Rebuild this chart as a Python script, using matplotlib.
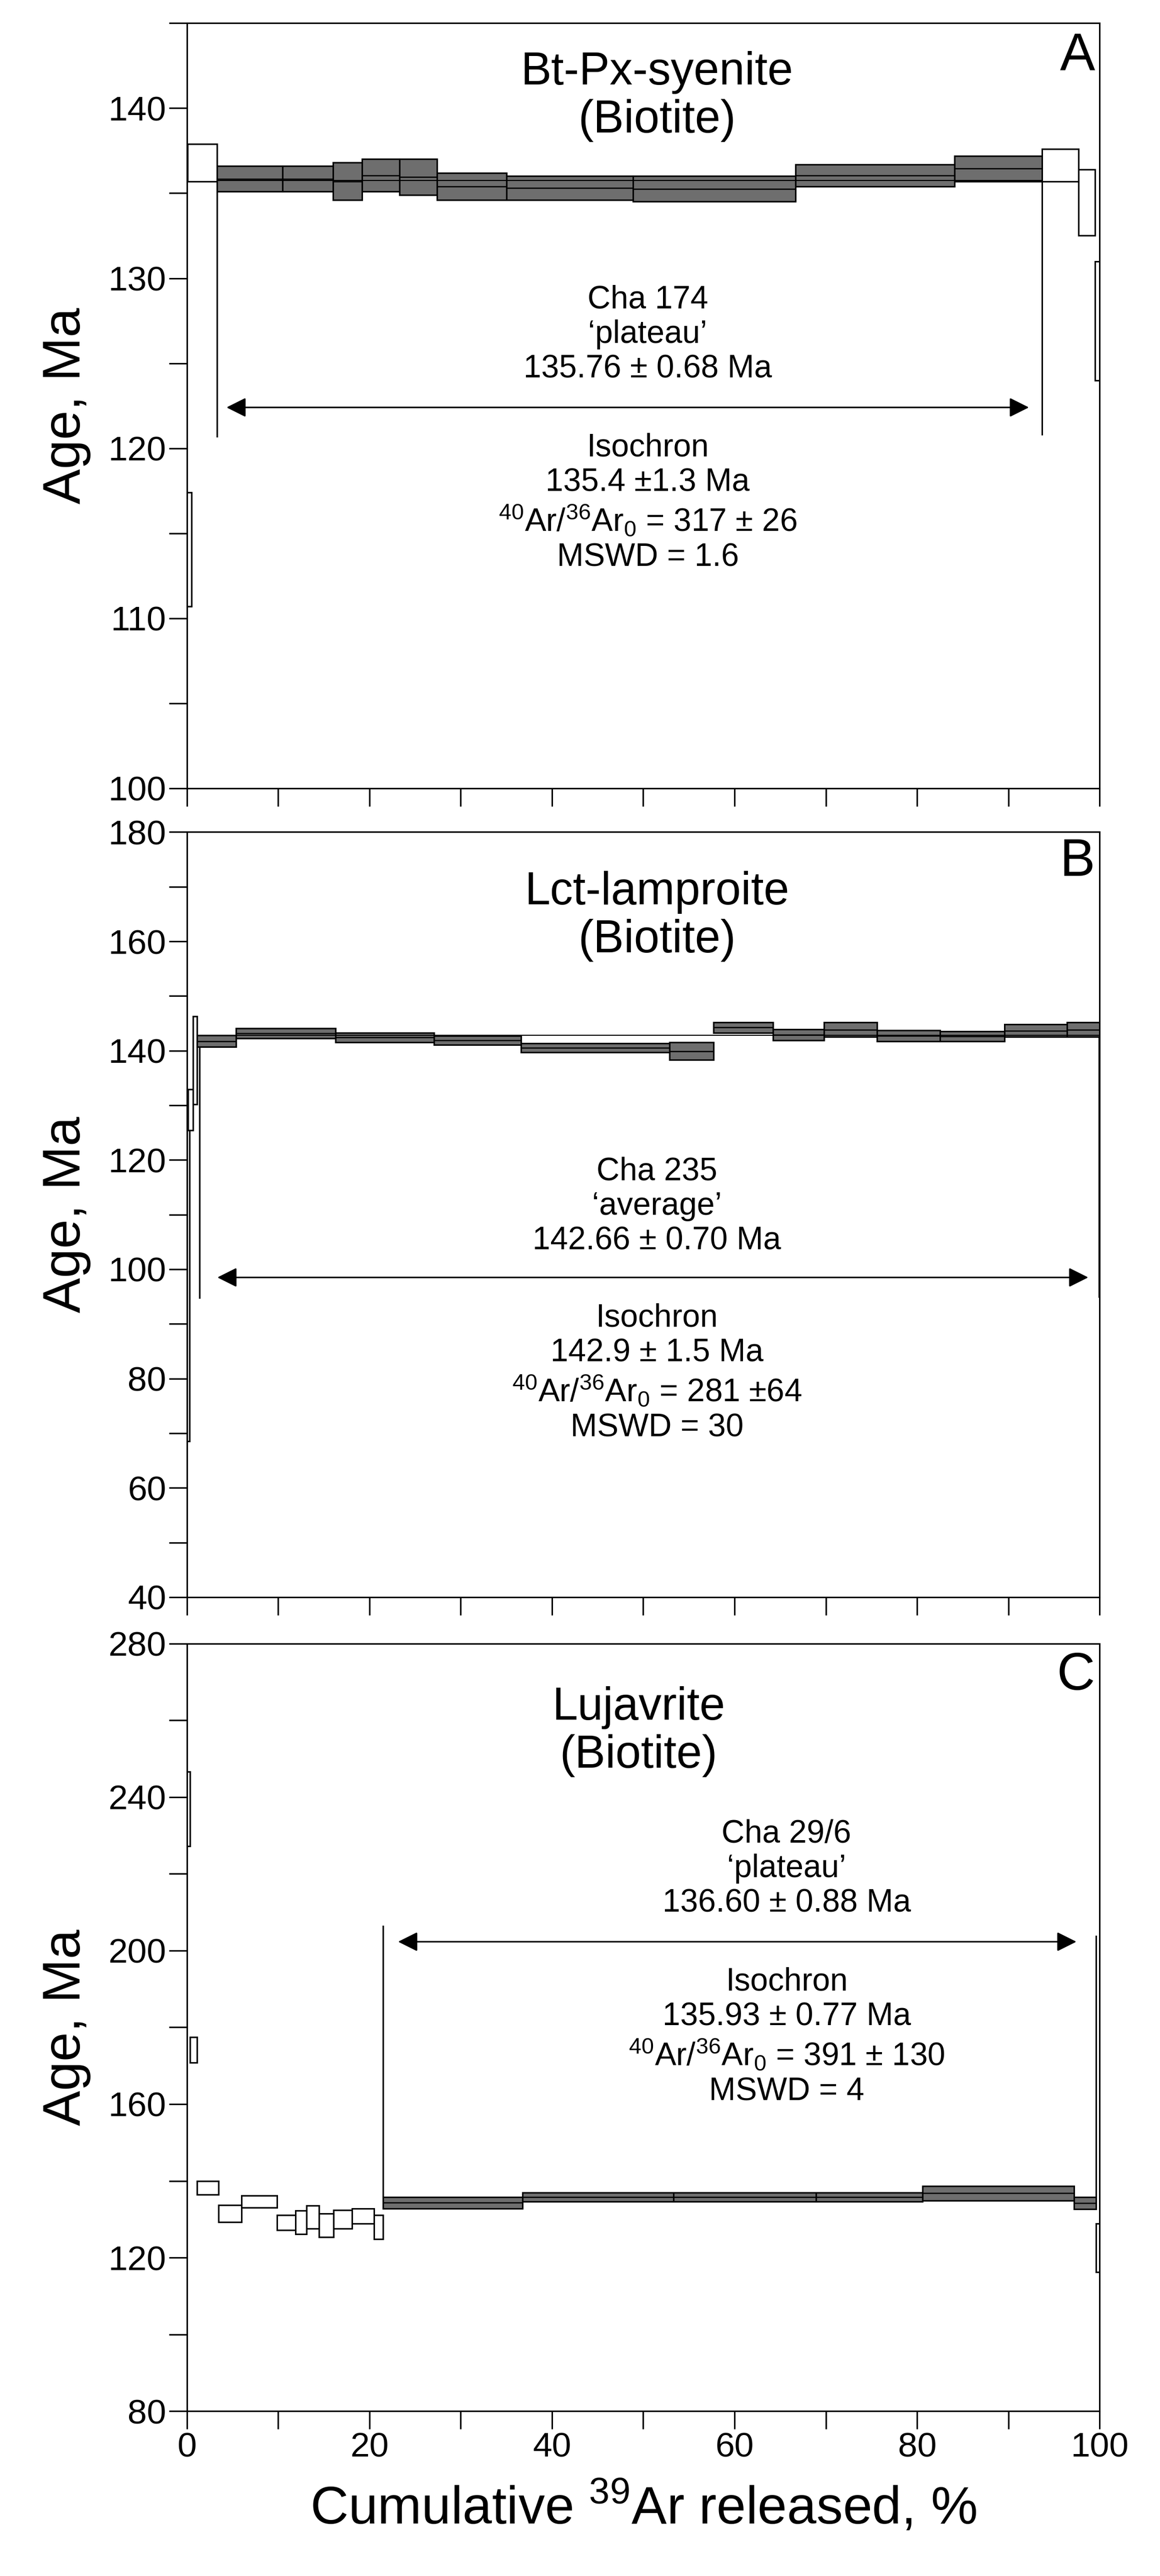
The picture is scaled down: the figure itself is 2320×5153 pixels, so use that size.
import matplotlib
matplotlib.use("Agg")
import matplotlib.pyplot as plt
from matplotlib.patches import Rectangle
from matplotlib.ticker import MultipleLocator

plt.rcParams['font.family'] = ['Liberation Sans', 'DejaVu Sans']
plt.rcParams['mathtext.fontset'] = 'custom'
plt.rcParams['mathtext.rm'] = 'Liberation Sans'
plt.rcParams['mathtext.it'] = 'Liberation Sans'

GREY = '#6e6e6e'

# --- Panel A: Bt-Px-syenite, Cha 174 ---
a_edges = [0.1, 3.3, 10.5, 16.0, 19.2, 23.3, 27.4, 35.0, 48.9, 66.7, 84.1, 93.7, 97.7, 99.5, 100]
a_lo = [135.7, 135.1, 135.1, 134.6, 135.1, 134.9, 134.6, 134.6, 134.5, 135.4, 135.7, 135.7, 132.5, 124.0]
a_hi = [137.9, 136.6, 136.6, 136.8, 137.0, 137.0, 136.2, 136.0, 136.0, 136.7, 137.2, 137.6, 136.4, 131.0]
a_plat = [False] + [True] * 10 + [False] * 3
a_first = (0.0, 0.5, 110.7, 117.4)  # x0, x1, lo, hi of first step

# --- Panel B: Lct-lamproite, Cha 235 ---
b_edges = [1.1, 5.4, 16.3, 27.1, 36.6, 52.9, 57.7, 64.2, 69.8, 75.6, 82.5, 89.6, 96.4, 100]
b_lo = [140.7, 142.3, 141.5, 141.1, 139.7, 138.3, 143.3, 141.9, 142.5, 141.7, 141.7, 142.5, 142.5]
b_hi = [142.8, 144.1, 143.3, 142.7, 141.3, 141.5, 145.2, 143.9, 145.2, 143.7, 143.5, 144.8, 145.2]
b_first_x0 = [0.0, 0.15, 0.7]
b_first_x1 = [0.3, 0.7, 1.1]
b_first_lo = [68.5, 125.4, 130.2]
b_first_hi = [132.4, 132.9, 146.3]

# --- Panel C: Lujavrite, Cha 29/6 ---
c_edges = [0.0, 0.35, 1.1, 3.5, 6.0, 9.9, 11.9, 13.1, 14.5, 16.1, 18.1, 20.5, 21.5,
           36.8, 53.3, 68.9, 80.6, 97.2, 99.6, 100]
c_lo = [227.2, 170.8, 136.4, 129.3, 133.1, 127.2, 126.1, 127.6, 125.4, 127.6, 128.9, 124.8,
        132.8, 134.6, 134.6, 134.6, 134.9, 132.6, 116.2]
c_hi = [246.6, 177.4, 140.0, 133.7, 136.1, 131.1, 132.3, 133.6, 131.5, 132.4, 132.8, 131.1,
        135.8, 137.0, 137.0, 137.0, 138.7, 135.8, 128.9]
c_plat = [False] * 12 + [True] * 6 + [False]


def draw_steps(ax, edges, lo, hi, plat):
    for i in range(len(lo)):
        x0, x1 = edges[i], edges[i + 1]
        fc = GREY if plat[i] else 'white'
        ax.add_patch(Rectangle((x0, lo[i]), x1 - x0, hi[i] - lo[i], fc=fc, ec='black', lw=2.2, zorder=3))
        if plat[i]:
            mid = (lo[i] + hi[i]) / 2
            ax.plot([x0, x1], [mid, mid], color='black', lw=1.8, zorder=4)


def plateau_marks(ax, x0, x1, y0_left, y0_right, ytop_left, ytop_right, yarrow, ax0, ax1):
    ax.plot([x0, x0], [y0_left, ytop_left], color='black', lw=2.2, zorder=4)
    ax.plot([x1, x1], [y0_right, ytop_right], color='black', lw=2.2, zorder=4)
    ax.annotate('', xy=(ax0, yarrow), xytext=(ax1, yarrow),
                arrowprops=dict(arrowstyle='<|-|>', color='black', lw=2.2, mutation_scale=60))


def style(ax, ylim, major, minor):
    ax.set_xlim(0, 100)
    ax.set_ylim(*ylim)
    ax.xaxis.set_major_locator(MultipleLocator(20))
    ax.xaxis.set_minor_locator(MultipleLocator(10))
    ax.yaxis.set_major_locator(MultipleLocator(major))
    ax.yaxis.set_minor_locator(MultipleLocator(minor))
    ax.tick_params(which='both', direction='out', width=2.2, labelsize=50, top=False, right=False)
    ax.tick_params(which='major', length=26)
    ax.tick_params(which='minor', length=26)
    for s in ax.spines.values():
        s.set_linewidth(2.2)
    ax.set_ylabel('Age, Ma', fontsize=76, labelpad=25)


fig = plt.figure(figsize=(23.2, 51.53), dpi=100)
axA = fig.add_axes([0.161, 0.694, 0.787, 0.297])
axB = fig.add_axes([0.161, 0.380, 0.787, 0.297])
axC = fig.add_axes([0.161, 0.064, 0.787, 0.298])

TXT = 46

# Panel A
style(axA, (100, 145), 10, 5)
axA.set_ylim(100, 145)
axA.set_xticklabels([])
axA.add_patch(Rectangle((a_first[0], a_first[2]), a_first[1] - a_first[0], a_first[3] - a_first[2],
                        fc='white', ec='black', lw=2.2, zorder=3))
draw_steps(axA, a_edges, a_lo, a_hi, a_plat)
axA.plot([3.3, 93.7], [135.76, 135.76], color='black', lw=1.5, zorder=4)
plateau_marks(axA, 3.3, 93.7, 120.7, 120.8, 135.1, 135.7, 122.4, 4.2, 92.4)
axA.text(51.5, 140.7, 'Bt-Px-syenite\n(Biotite)', ha='center', va='center', fontsize=66, linespacing=1.15)
axA.text(99.5, 144.5, 'A', ha='right', va='top', fontsize=76)
axA.text(50.5, 126.7, 'Cha 174\n\u2018plateau\u2019\n135.76 \u00b1 0.68 Ma', ha='center', va='center',
         fontsize=TXT, linespacing=1.2)
axA.text(50.5, 116.8, 'Isochron\n135.4 \u00b11.3 Ma\n$^{40}$Ar/$^{36}$Ar$_0$ = 317 \u00b1 26\nMSWD = 1.6',
         ha='center', va='center', fontsize=TXT, linespacing=1.2)

# Panel B
style(axB, (40, 180), 20, 10)
axB.set_xticklabels([])
for x0, x1, lo, hi in zip(b_first_x0, b_first_x1, b_first_lo, b_first_hi):
    axB.add_patch(Rectangle((x0, lo), x1 - x0, hi - lo, fc='white', ec='black', lw=2.2, zorder=3))
draw_steps(axB, b_edges, b_lo, b_hi, [True] * len(b_lo))
axB.plot([1.1, 100], [142.8, 142.8], color='black', lw=1.5, zorder=4)
plateau_marks(axB, 1.4, 99.9, 94.8, 95.0, 140.7, 142.5, 98.5, 3.2, 98.9)
axB.text(51.5, 164.6, 'Lct-lamproite\n(Biotite)', ha='center', va='center', fontsize=66, linespacing=1.15)
axB.text(99.5, 179, 'B', ha='right', va='top', fontsize=76)
axB.text(51.5, 111.5, 'Cha 235\n\u2018average\u2019\n142.66 \u00b1 0.70 Ma', ha='center', va='center',
         fontsize=TXT, linespacing=1.2)
axB.text(51.5, 81.0, 'Isochron\n142.9 \u00b1 1.5 Ma\n$^{40}$Ar/$^{36}$Ar$_0$ = 281 \u00b164\nMSWD = 30',
         ha='center', va='center', fontsize=TXT, linespacing=1.2)

# Panel C
style(axC, (80, 280), 40, 20)
draw_steps(axC, c_edges, c_lo, c_hi, c_plat)
plateau_marks(axC, 21.5, 99.6, 135.8, 135.8, 206.3, 203.8, 202.3, 23.0, 97.6)
axC.text(49.5, 257, 'Lujavrite\n(Biotite)', ha='center', va='center', fontsize=66, linespacing=1.15)
axC.text(99.5, 278, 'C', ha='right', va='top', fontsize=76)
axC.text(65.7, 221.3, 'Cha 29/6\n\u2018plateau\u2019\n136.60 \u00b1 0.88 Ma', ha='center', va='center',
         fontsize=TXT, linespacing=1.2)
axC.text(65.7, 177.5, 'Isochron\n135.93 \u00b1 0.77 Ma\n$^{40}$Ar/$^{36}$Ar$_0$ = 391 \u00b1 130\nMSWD = 4',
         ha='center', va='center', fontsize=TXT, linespacing=1.2)
axC.set_xlabel('Cumulative $^{39}$Ar released, %', fontsize=76, labelpad=25)

fig.savefig('out.png', dpi=100)
